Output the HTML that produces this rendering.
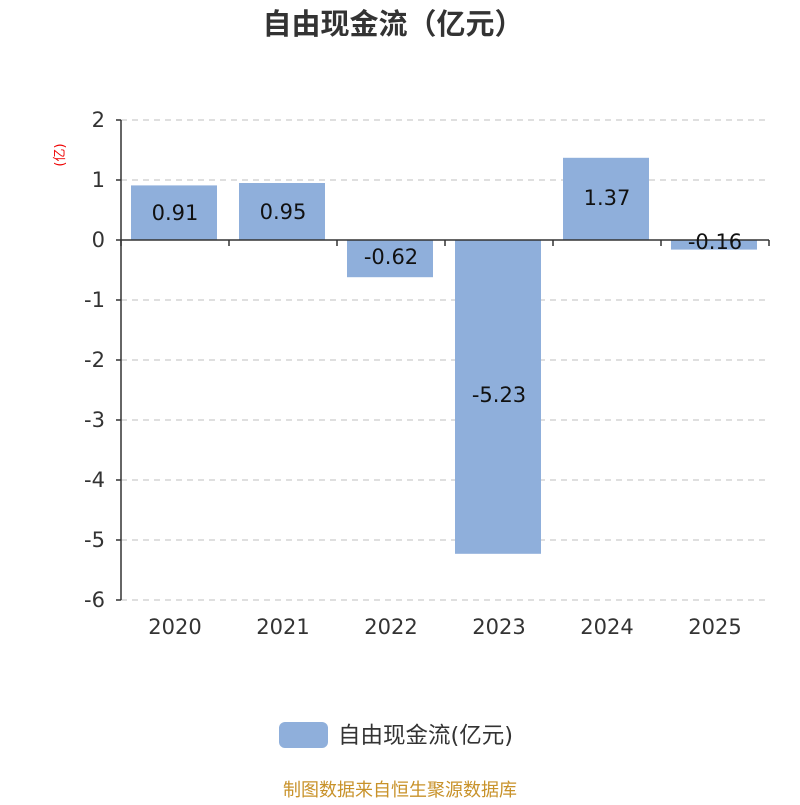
<!DOCTYPE html>
<html><head><meta charset="utf-8"><style>
body{margin:0;background:#fff;}
</style></head><body>
<svg width="800" height="800" xmlns="http://www.w3.org/2000/svg" font-family="'DejaVu Sans','Noto Sans CJK SC',sans-serif">
<rect width="800" height="800" fill="#fff"/>
<text x="393" y="34" text-anchor="middle" font-size="29" font-weight="bold" fill="#333">自由现金流（亿元）</text>
<g stroke="#ccc" stroke-dasharray="6,5" stroke-width="1.3">
<line x1="121" y1="120" x2="769" y2="120"/>
<line x1="121" y1="180" x2="769" y2="180"/>
<line x1="121" y1="300" x2="769" y2="300"/>
<line x1="121" y1="360" x2="769" y2="360"/>
<line x1="121" y1="420" x2="769" y2="420"/>
<line x1="121" y1="480" x2="769" y2="480"/>
<line x1="121" y1="540" x2="769" y2="540"/>
<line x1="121" y1="600" x2="769" y2="600"/>
</g>
<g fill="#8fafdb">
<rect x="131" y="185.4" width="86" height="54.6"/>
<rect x="239" y="183" width="86" height="57"/>
<rect x="347" y="240" width="86" height="37.2"/>
<rect x="455" y="240" width="86" height="313.8"/>
<rect x="563" y="157.8" width="86" height="82.2"/>
<rect x="671" y="240" width="86" height="9.6"/>
</g>
<g stroke="#333" stroke-width="1.5">
<line x1="121" y1="120" x2="121" y2="600"/>
<line x1="116" y1="120" x2="121" y2="120"/><line x1="116" y1="180" x2="121" y2="180"/>
<line x1="116" y1="240" x2="121" y2="240"/><line x1="116" y1="300" x2="121" y2="300"/>
<line x1="116" y1="360" x2="121" y2="360"/><line x1="116" y1="420" x2="121" y2="420"/>
<line x1="116" y1="480" x2="121" y2="480"/><line x1="116" y1="540" x2="121" y2="540"/>
<line x1="116" y1="600" x2="121" y2="600"/>
<line x1="121" y1="240" x2="769" y2="240"/>
<line x1="121" y1="240" x2="121" y2="246"/><line x1="229" y1="240" x2="229" y2="246"/>
<line x1="337" y1="240" x2="337" y2="246"/><line x1="445" y1="240" x2="445" y2="246"/>
<line x1="553" y1="240" x2="553" y2="246"/><line x1="661" y1="240" x2="661" y2="246"/>
<line x1="769" y1="240" x2="769" y2="246"/>
</g>
<g font-size="21" fill="#333" text-anchor="end">
<text x="105" y="127">2</text><text x="105" y="187">1</text><text x="105" y="247">0</text>
<text x="105" y="307">-1</text><text x="105" y="367">-2</text><text x="105" y="427">-3</text>
<text x="105" y="487">-4</text><text x="105" y="547">-5</text><text x="105" y="607">-6</text>
</g>
<text transform="translate(64,155) rotate(-90)" text-anchor="middle" font-size="13" fill="#e00">(亿)</text>
<g font-size="21" fill="#333" text-anchor="middle">
<text x="175" y="634">2020</text><text x="283" y="634">2021</text><text x="391" y="634">2022</text>
<text x="499" y="634">2023</text><text x="607" y="634">2024</text><text x="715" y="634">2025</text>
</g>
<g font-size="21" fill="#111" text-anchor="middle">
<text x="175" y="220">0.91</text><text x="283" y="219">0.95</text><text x="391" y="264">-0.62</text>
<text x="499" y="402">-5.23</text><text x="607" y="205">1.37</text><text x="715" y="249">-0.16</text>
</g>
<rect x="279" y="722" width="49" height="26" rx="6" fill="#8fafdb"/>
<text x="338" y="743" font-size="22.5" fill="#333">自由现金流(亿元)</text>
<text x="400" y="796" text-anchor="middle" font-size="18" fill="#c8922a">制图数据来自恒生聚源数据库</text>
</svg>
</body></html>
